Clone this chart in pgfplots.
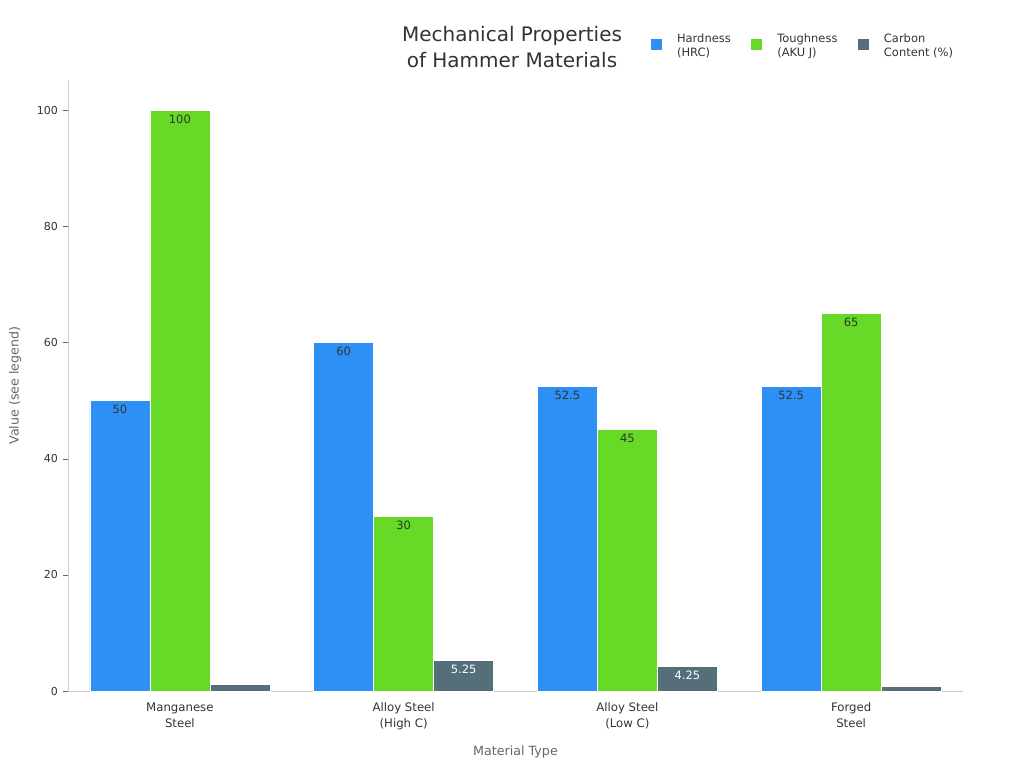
\documentclass[border=0pt]{standalone}
\usepackage{pgfplots}
\pgfplotsset{compat=1.18}
\usepackage{fontspec}
\setmainfont{DejaVu Sans}
\definecolor{hard}{HTML}{2E90F5}
\definecolor{tough}{HTML}{66DA26}
\definecolor{carb}{HTML}{546E7A}
\definecolor{axgray}{HTML}{CCCCCC}
\definecolor{txt}{HTML}{333333}
\definecolor{lab}{HTML}{666666}
\begin{document}
\begin{tikzpicture}
\useasboundingbox (0pt,0pt) rectangle (768pt,576pt);
\begin{axis}[
  at={(51pt,57.75pt)}, anchor=south west,
  scale only axis, width=671.25pt, height=458.25pt,
  xmin=-0.5, xmax=3.5, ymin=0, ymax=105.2,
  ybar=0pt, bar width=45pt,
  axis x line*=bottom, axis y line*=left,
  axis line style={draw=axgray,-},
  xtick={0,1,2,3},
  xticklabels={{Manganese\\Steel},{Alloy Steel\\(High C)},{Alloy Steel\\(Low C)},{Forged\\Steel}},
  xticklabel style={align=center, font=\fontsize{8.8}{12}\selectfont, text=txt, yshift=-1.5pt},
  x tick style={draw=none},
  ytick={0,20,40,60,80,100},
  yticklabel style={font=\fontsize{8.25}{10}\selectfont, text=txt},
  y tick style={draw=lab},
  tick align=outside, major tick length=4pt,
  /pgf/number format/assume math mode=true,
  xlabel={Material Type}, ylabel={Value (see legend)},
  xlabel style={font=\fontsize{9.5}{11}\selectfont, text=lab, yshift=-5pt},
  ylabel style={font=\fontsize{9.5}{11}\selectfont, text=lab, yshift=5pt},
  point meta=explicit symbolic,
  nodes near coords,
  every node near coord/.append style={anchor=north, font=\fontsize{8.6}{10}\selectfont, text=txt},
  legend columns=3,
  legend style={at={(0.821,1.062)}, anchor=center, draw=none, fill=none,
    font=\fontsize{8.6}{10.5}\selectfont, text=txt,
    /tikz/every odd column/.append style={column sep=9pt},
    /tikz/every even column/.append style={column sep=12.5pt}},
  legend cell align=left,
  legend image code/.code={\fill[#1] (0pt,-6pt) rectangle (9pt,3pt);},
]
\addplot[fill=hard, draw=white, line width=0.4pt] coordinates {(0,50) [50] (1,60) [60] (2,52.5) [52.5] (3,52.5) [52.5]};
\addlegendentry{\begin{tabular}{@{}l@{}}Hardness\\(HRC)\end{tabular}}
\addplot[fill=tough, draw=white, line width=0.4pt] coordinates {(0,100) [100] (1,30) [30] (2,45) [45] (3,65) [65]};
\addlegendentry{\begin{tabular}{@{}l@{}}Toughness\\(AKU J)\end{tabular}}
\addplot[fill=carb, draw=white, line width=0.4pt, every node near coord/.append style={text=white}] coordinates {(0,1.2) [] (1,5.25) [5.25] (2,4.25) [4.25] (3,0.8) []};
\addlegendentry{\begin{tabular}{@{}l@{}}Carbon\\Content (\%)\end{tabular}}
\end{axis}
\node[align=center, font=\fontsize{15}{19.5}\selectfont, text=txt] at (384pt,541pt) {Mechanical Properties\\of Hammer Materials};
\end{tikzpicture}
\end{document}
